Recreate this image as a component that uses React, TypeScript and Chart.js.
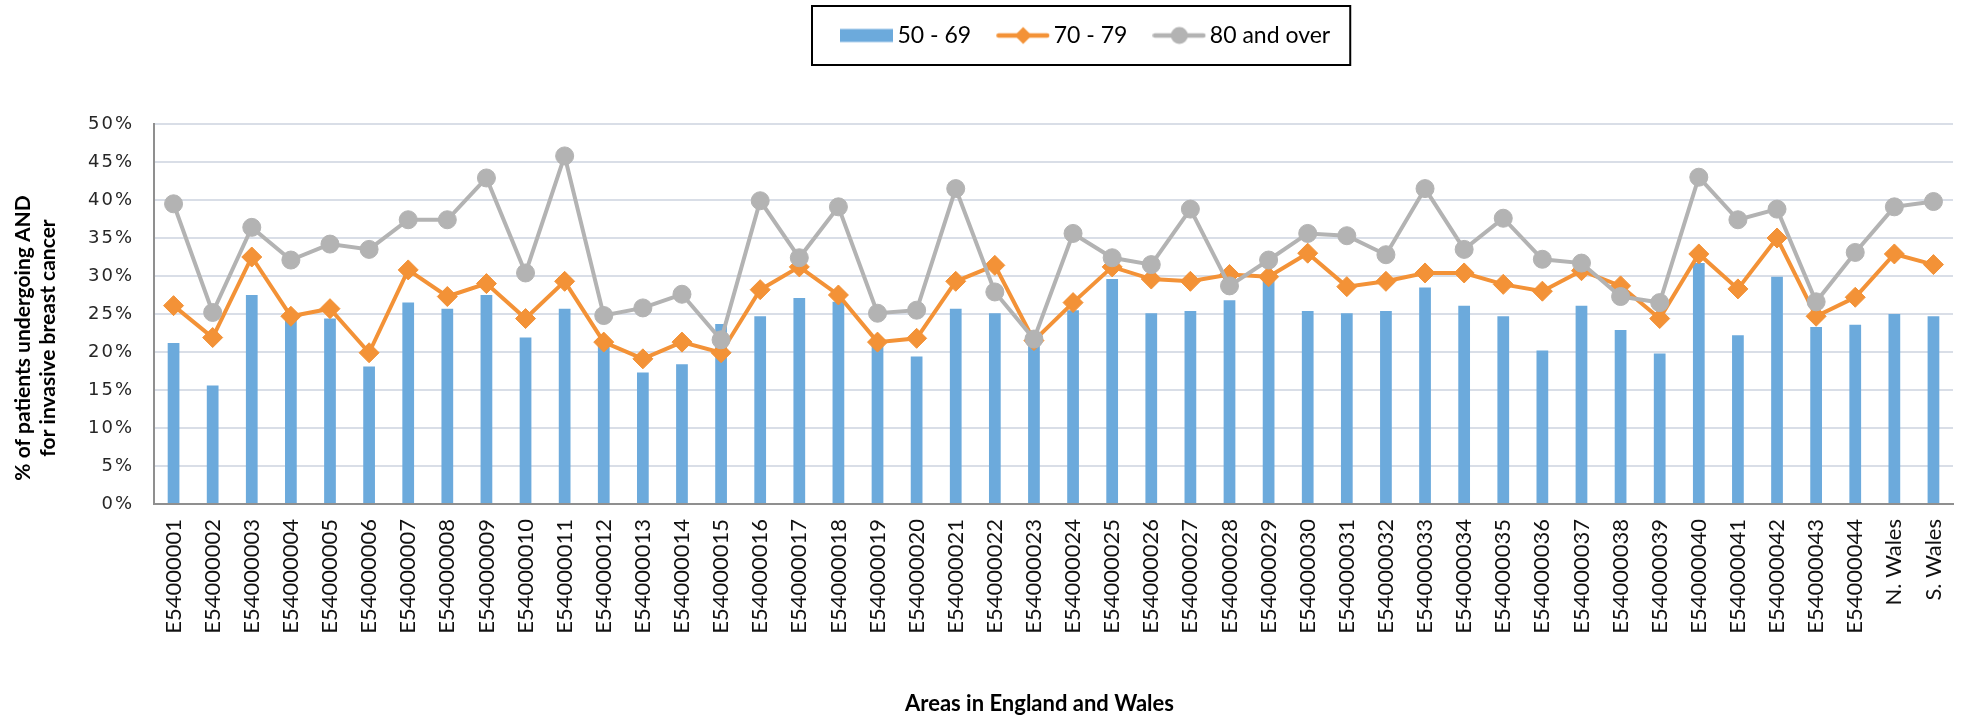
import { useEffect, useRef } from "react";
import { Chart, registerables } from "chart.js";

Chart.register(...registerables);

const areas = [
  "E54000001", "E54000002", "E54000003", "E54000004", "E54000005", "E54000006",
  "E54000007", "E54000008", "E54000009", "E54000010", "E54000011", "E54000012",
  "E54000013", "E54000014", "E54000015", "E54000016", "E54000017", "E54000018",
  "E54000019", "E54000020", "E54000021", "E54000022", "E54000023", "E54000024",
  "E54000025", "E54000026", "E54000027", "E54000028", "E54000029", "E54000030",
  "E54000031", "E54000032", "E54000033", "E54000034", "E54000035", "E54000036",
  "E54000037", "E54000038", "E54000039", "E54000040", "E54000041", "E54000042",
  "E54000043", "E54000044", "N. Wales", "S. Wales",
];

const age50to69 = [
  21.2, 15.6, 27.5, 24.3, 24.4, 18.1, 26.5, 25.7, 27.5, 21.9, 25.7, 21.0,
  17.3, 18.4, 23.7, 24.7, 27.1, 26.6, 21.0, 19.4, 25.7, 25.1, 21.2, 25.5,
  29.6, 25.1, 25.4, 26.8, 29.4, 25.4, 25.1, 25.4, 28.5, 26.1, 24.7, 20.2,
  26.1, 22.9, 19.8, 31.7, 22.2, 29.9, 23.3, 23.6, 25.0, 24.7,
];

const age70to79 = [
  26.1, 21.9, 32.5, 24.7, 25.7, 19.9, 30.8, 27.3, 29.0, 24.4, 29.3, 21.3,
  19.1, 21.3, 19.9, 28.2, 31.2, 27.5, 21.3, 21.8, 29.3, 31.4, 21.5, 26.5,
  31.2, 29.6, 29.3, 30.2, 29.9, 33.0, 28.6, 29.3, 30.4, 30.4, 28.9, 28.0,
  30.7, 28.7, 24.4, 32.9, 28.3, 35.0, 24.7, 27.2, 32.9, 31.5,
];

const age80plus = [
  39.5, 25.2, 36.4, 32.1, 34.2, 33.5, 37.4, 37.4, 42.9, 30.4, 45.8, 24.8,
  25.8, 27.6, 21.6, 39.9, 32.4, 39.1, 25.1, 25.5, 41.5, 27.9, 21.7, 35.6,
  32.4, 31.5, 38.8, 28.7, 32.1, 35.6, 35.3, 32.8, 41.5, 33.5, 37.6, 32.2,
  31.7, 27.3, 26.5, 43.0, 37.4, 38.8, 26.6, 33.1, 39.1, 39.8,
];

const seriesNames = ["50 - 69", "70 - 79", "80 and over"];

const BLUE = "#6CAADC";
const ORANGE = "#F39237";
const GRAY = "#B3B3B3";

function makeLegendImage(kind: "bar" | "diamond" | "circle"): HTMLCanvasElement {
  const c = document.createElement("canvas");
  c.width = 58;
  c.height = 24;
  const g = c.getContext("2d")!;
  const cy = 12;
  if (kind === "bar") {
    g.fillStyle = BLUE;
    g.fillRect(0, cy - 6.5, 53, 13);
  } else {
    const col = kind === "diamond" ? ORANGE : GRAY;
    g.strokeStyle = col;
    g.lineWidth = 4.5;
    g.lineCap = "round";
    g.beginPath();
    g.moveTo(2.5, cy);
    g.lineTo(51, cy);
    g.stroke();
    g.fillStyle = col;
    g.beginPath();
    if (kind === "diamond") {
      g.moveTo(27, cy - 8.5);
      g.lineTo(35.5, cy);
      g.lineTo(27, cy + 8.5);
      g.lineTo(18.5, cy);
      g.closePath();
    } else {
      g.arc(27, cy, 8.5, 0, Math.PI * 2);
    }
    g.fill();
  }
  return c;
}

function wrapScale(scale: any, spacing: number, titleShiftX: number, titleShiftY: number) {
  if (!scale || scale.__wrapped) return;
  if (spacing) {
    const origLabels = scale.drawLabels.bind(scale);
    scale.drawLabels = (area: any) => {
      const c = scale.ctx;
      c.save();
      c.letterSpacing = spacing + "px";
      origLabels(area);
      c.restore();
    };
  }
  if (titleShiftX || titleShiftY) {
    const origTitle = scale.drawTitle.bind(scale);
    scale.drawTitle = () => {
      const c = scale.ctx;
      c.save();
      c.translate(titleShiftX, titleShiftY);
      origTitle();
      c.restore();
    };
  }
  scale.__wrapped = true;
}

const refPlugin = {
  id: "refPlugin",
  beforeDraw(chart: any) {
    const { ctx } = chart;
    ctx.save();
    ctx.fillStyle = "#ffffff";
    ctx.fillRect(0, 0, chart.width, chart.height);
    ctx.restore();
  },
  afterLayout(chart: any) {
    const lg = chart.legend;
    if (lg && lg.lineWidths) {
      const pad = lg.options.labels.padding;
      const x0 = (lg.left + pad + lg.right - lg.lineWidths[0]) / 2;
      const dx = 852 - x0;
      lg.left += dx;
      lg.right += dx;
      const dy = -13 - lg.top;
      lg.top += dy;
      lg.bottom += dy;
    }
    wrapScale(chart.scales.x, 0, -14, 0);
    wrapScale(chart.scales.y, 2, 0, 24);
  },
  afterDraw(chart: any) {
    const lg = chart.legend;
    if (!lg || !lg.legendHitBoxes || !lg.legendHitBoxes.length) return;
    const hb = lg.legendHitBoxes;
    const first = hb[0];
    const last = hb[hb.length - 1];
    const cy = first.top + first.height / 2;
    const left = first.left - 40;
    const right = last.left + last.width + 20;
    const { ctx } = chart;
    ctx.save();
    ctx.strokeStyle = "#000000";
    ctx.lineWidth = 2;
    ctx.strokeRect(left, cy - 29.5, right - left, 59);
    ctx.restore();
  },
};

export default function App() {
  const ref = useRef<HTMLCanvasElement | null>(null);

  useEffect(() => {
    document.body.style.margin = "0";
    const canvas = ref.current;
    if (!canvas) return;

    const legendImages = [
      makeLegendImage("bar"),
      makeLegendImage("diamond"),
      makeLegendImage("circle"),
    ];

    const chart = new Chart(canvas, {
      type: "bar",
      data: {
        labels: areas,
        datasets: [
          {
            type: "bar",
            label: seriesNames[0],
            data: age50to69,
            backgroundColor: BLUE,
            borderWidth: 0,
            barPercentage: 0.3,
            categoryPercentage: 1.0,
            order: 3,
          },
          {
            type: "line",
            label: seriesNames[1],
            data: age70to79,
            borderColor: ORANGE,
            backgroundColor: ORANGE,
            borderWidth: 4,
            pointStyle: "rectRot",
            pointRadius: 10,
            pointHoverRadius: 10,
            pointBorderWidth: 1,
            pointBackgroundColor: ORANGE,
            pointBorderColor: ORANGE,
            tension: 0,
            fill: false,
            order: 2,
          },
          {
            type: "line",
            label: seriesNames[2],
            data: age80plus,
            borderColor: GRAY,
            backgroundColor: GRAY,
            borderWidth: 4,
            pointStyle: "circle",
            pointRadius: 9,
            pointHoverRadius: 9,
            pointBorderWidth: 1,
            pointBackgroundColor: GRAY,
            pointBorderColor: GRAY,
            tension: 0,
            fill: false,
            order: 1,
          },
        ] as any,
      },
      options: {
        responsive: false,
        animation: false,
        devicePixelRatio: 1,
        layout: { padding: { left: 0, right: 13, top: 54, bottom: 0 } },
        plugins: {
          tooltip: { enabled: false },
          legend: {
            display: true,
            position: "top",
            align: "center",
            labels: {
              usePointStyle: true,
              pointStyleWidth: 34,
              boxHeight: 23,
              padding: 37,
              color: "#000000",
              font: { family: "Lato", size: 23 },
              generateLabels: () =>
                seriesNames.map((name, i) => ({
                  text: name,
                  fillStyle: [BLUE, ORANGE, GRAY][i],
                  strokeStyle: [BLUE, ORANGE, GRAY][i],
                  lineWidth: 0,
                  pointStyle: legendImages[i],
                  datasetIndex: i,
                  hidden: false,
                })),
            },
          },
        },
        scales: {
          x: {
            type: "category",
            offset: true,
            grid: { display: false, drawTicks: false },
            border: { display: true, color: "#8F8F8F", width: 2 },
            ticks: {
              autoSkip: false,
              minRotation: 90,
              maxRotation: 90,
              padding: 15,
              color: "#111111",
              font: { family: "Lato", size: 22 },
            },
            title: {
              display: true,
              text: "Areas in England and Wales",
              color: "#000000",
              font: { family: "Lato", size: 22, weight: "bold", lineHeight: 1.25 },
              padding: { top: 60, bottom: 4 },
            },
            afterFit: (s: any) => {
              s.height = 218;
            },
          },
          y: {
            type: "linear",
            min: 0,
            max: 50,
            grid: { display: true, color: "#D9DEE7", lineWidth: 2, drawTicks: false },
            border: { display: true, color: "#8F8F8F", width: 2 },
            ticks: {
              stepSize: 5,
              padding: 20,
              color: "#262626",
              font: { family: "DejaVu Sans", size: 18 },
              callback: (v: any) => v + "%",
            },
            title: {
              display: true,
              text: ["% of patients undergoing AND", "for invasive breast cancer"],
              color: "#000000",
              font: { family: "Lato", size: 21, weight: "bold", lineHeight: 1.2 },
              padding: { top: 10.4, bottom: 0 },
            },
            afterFit: (s: any) => {
              s.width = 154;
            },
          },
        },
      },
      plugins: [refPlugin as any],
    });

    return () => {
      chart.destroy();
    };
  }, []);

  return (
    <div style={{ width: 1975, height: 722 }}>
      <canvas ref={ref} width={1975} height={722} style={{ display: "block" }} />
    </div>
  );
}
